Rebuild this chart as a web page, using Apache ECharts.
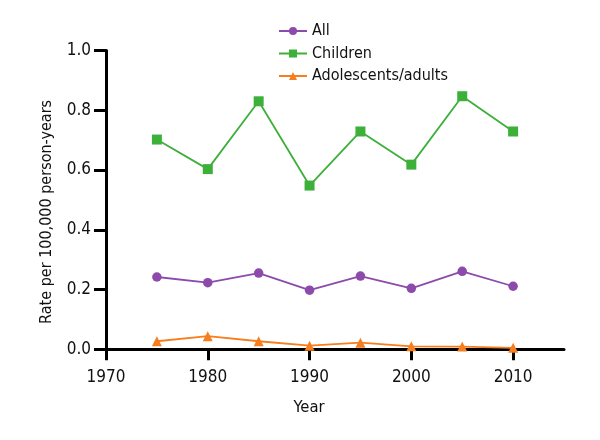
<!DOCTYPE html>
<html>
<head>
<meta charset="utf-8">
<script src="https://cdn.jsdelivr.net/npm/echarts@6/dist/echarts.min.js"></script>
<style>
html,body{margin:0;padding:0;background:#fff;}
#chart{width:600px;height:440px;}
</style>
</head>
<body>
<div id="chart"></div>
<script>
const years = [1975, 1980, 1985, 1990, 1995, 2000, 2005, 2010];
const allRates = [0.242, 0.223, 0.255, 0.198, 0.245, 0.204, 0.261, 0.211];
const childrenRates = [0.702, 0.603, 0.830, 0.548, 0.729, 0.618, 0.847, 0.729];
const adultRates = [0.027, 0.044, 0.027, 0.012, 0.022, 0.010, 0.009, 0.005];
const xTicks = [1970, 1980, 1990, 2000, 2010];
const yTicks = [0, 0.2, 0.4, 0.6, 0.8, 1.0];
const seriesNames = ['All', 'Children', 'Adolescents/adults'];

const FONT = '"DejaVu Sans Condensed", "Liberation Sans Narrow", sans-serif';
const colors = ['#8c4bab', '#3db03a', '#f67e1f'];

function pairs(vals) { return years.map((y, i) => [y, vals[i]]); }

const chart = echarts.init(document.getElementById('chart'), null, {renderer: 'canvas'});
chart.setOption({
  animation: false,
  backgroundColor: '#ffffff',
  color: colors,
  textStyle: {fontFamily: FONT},
  legend: {
    orient: 'vertical',
    left: 278,
    top: 22,
    padding: 0,
    itemWidth: 28,
    itemHeight: 10,
    itemGap: 4.5,
    textStyle: {fontFamily: FONT, fontSize: 16, lineHeight: 18, color: '#111'},
    data: seriesNames
  },
  grid: {left: 106, right: 36, top: 50.5, bottom: 90.7, containLabel: false},
  xAxis: {
    type: 'value',
    min: 1970,
    max: 2015,
    interval: 10,
    name: 'Year',
    nameLocation: 'middle',
    nameGap: 50,
    nameTextStyle: {fontFamily: FONT, fontSize: 16.5, color: '#111', padding: [0, 52, 0, 0]},
    axisLine: {show: true, lineStyle: {color: '#000', width: 3}},
    axisTick: {show: true, length: 11, lineStyle: {color: '#000', width: 3}, customValues: xTicks},
    axisLabel: {fontFamily: FONT, fontSize: 17, color: '#111', margin: 20, customValues: xTicks,
      formatter: v => String(v)},
    splitLine: {show: false}
  },
  yAxis: {
    type: 'value',
    min: 0,
    max: 1,
    interval: 0.2,
    name: 'Rate per 100,000 person-years',
    nameLocation: 'middle',
    nameGap: 51,
    nameTextStyle: {fontFamily: FONT, fontSize: 16, color: '#111', padding: [0, 24, 0, 0]},
    axisLine: {show: true, lineStyle: {color: '#000', width: 3}},
    axisTick: {show: true, length: 12, lineStyle: {color: '#000', width: 3}, customValues: yTicks},
    axisLabel: {fontFamily: FONT, fontSize: 17, color: '#111', margin: 15,
      customValues: yTicks, formatter: v => v.toFixed(1)},
    splitLine: {show: false}
  },
  series: [
    {name: seriesNames[0], type: 'line', data: pairs(allRates), symbol: 'circle', symbolSize: 9.5,
      lineStyle: {width: 1.8}, itemStyle: {color: colors[0]}},
    {name: seriesNames[1], type: 'line', data: pairs(childrenRates), symbol: 'rect', symbolSize: 10,
      lineStyle: {width: 1.8}, itemStyle: {color: colors[1]}},
    {name: seriesNames[2], type: 'line', data: pairs(adultRates), symbol: 'triangle', symbolSize: 10,
      lineStyle: {width: 1.8}, itemStyle: {color: colors[2]}}
  ]
});
</script>
</body>
</html>
